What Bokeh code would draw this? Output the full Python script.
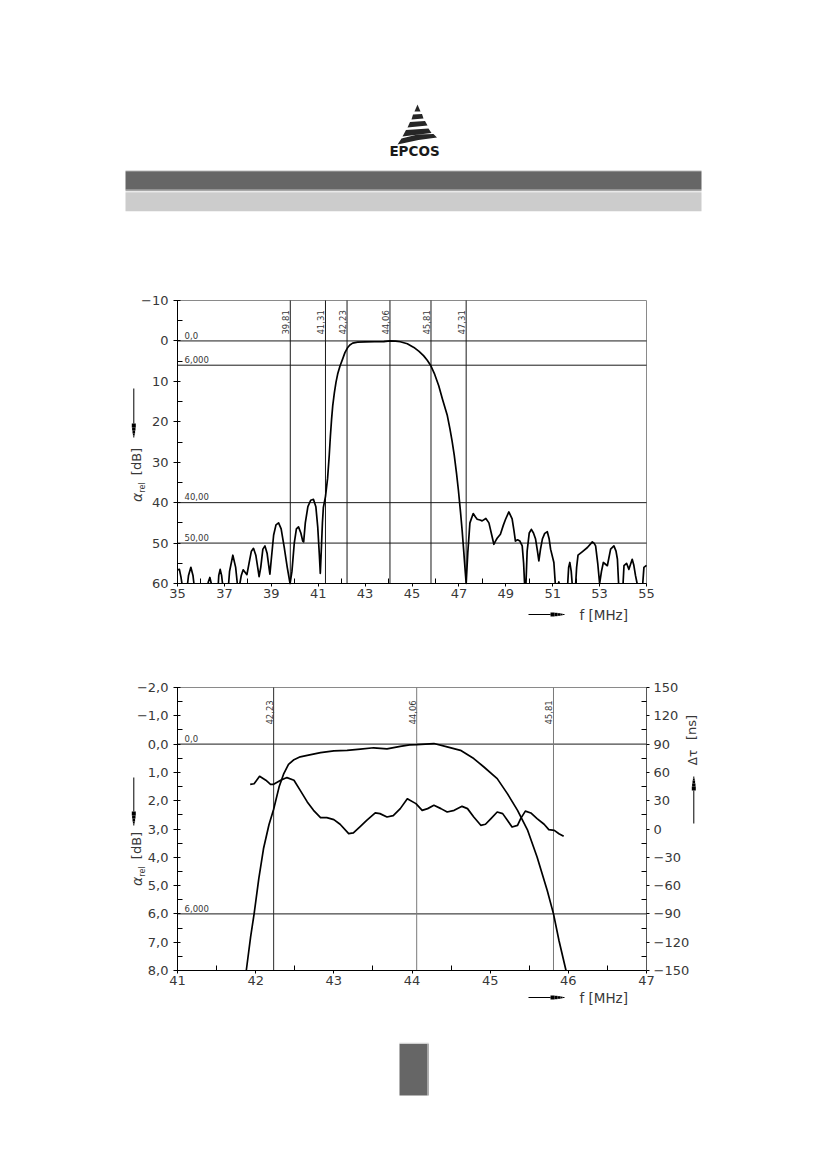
import math
import numpy as np
from bokeh.plotting import figure
from bokeh.layouts import column
from bokeh.models import Range1d, LinearAxis, FixedTicker, Label, Arrow
from bokeh.core.properties import value
from bokeh.embed import file_html
from bokeh.resources import INLINE

FONT = "DejaVu Sans"
INK = "#383838"
W = 810
nan = float("nan")

# ---- wideband response 35..55 MHz (relative attenuation, dB); nan = below 60 dB ----
freq_wide = [35.00, 35.08, 35.15, 35.19, 35.30, 35.43, 35.47, 35.57, 35.66, 35.70,
             36.00, 36.30, 36.32, 36.38, 36.44, 36.60, 36.74, 36.76, 36.82, 36.88,
             36.92, 37.05, 37.18, 37.22, 37.36, 37.48, 37.55, 37.60, 37.66, 37.72,
             37.80, 37.88, 37.96, 38.05, 38.15, 38.24, 38.34, 38.42, 38.48, 38.55,
             38.64, 38.73, 38.82, 38.90, 38.94, 39.00, 39.10, 39.20, 39.31, 39.42,
             39.55, 39.68, 39.80, 39.88, 39.98, 40.07, 40.16, 40.26, 40.34, 40.38,
             40.45, 40.56, 40.68, 40.80, 40.90, 40.98, 41.05, 41.09, 41.13, 41.18,
             41.22, 41.31, 41.40, 41.47, 41.52, 41.57, 41.62, 41.69, 41.76, 41.83,
             41.93, 42.04, 42.14, 42.25, 42.35, 42.47,
             42.68, 43.00, 43.40, 43.80, 44.06, 44.30, 44.50, 44.80, 45.08, 45.30,
             45.50, 45.65, 45.79, 45.95, 46.14, 46.30, 46.50, 46.62, 46.71, 46.80,
             46.90, 46.98, 47.07, 47.14, 47.21, 47.27, 47.31, 47.38,
             47.47, 47.61, 47.70, 47.78, 47.90, 47.99, 48.15, 48.28, 48.40, 48.49,
             48.56, 48.63, 48.77, 48.90, 48.99, 49.13, 49.27, 49.35, 49.41, 49.50,
             49.60, 49.70, 49.76, 49.80, 49.83, 49.86, 49.91, 50.00, 50.09, 50.18,
             50.27, 50.35, 50.41, 50.48, 50.56, 50.66, 50.77, 50.85, 50.91, 51.05,
             51.11, 51.18, 51.24, 51.26, 51.28, 51.45, 51.64, 51.68, 51.73, 51.79,
             51.83, 51.90, 51.98, 52.02, 52.08, 52.27, 52.48, 52.69, 52.76, 52.83,
             52.92, 53.00, 53.08, 53.16, 53.33, 53.47, 53.61, 53.70, 53.76, 53.81,
             53.90, 54.00, 54.04, 54.15, 54.25, 54.39, 54.46, 54.53, 54.60, 54.70,
             54.84, 54.89, 55.00]
att_wide = [56.6, 56.5, 58.5, 60, nan, 60, 58, 56.0, 58, 60,
            nan, 60, 59.5, 58.5, 60, nan, 60, 58, 56.5, 58,
            60, nan, 60, 57, 53.0, 56, 60, nan, 60, 58,
            56.6, 57.2, 57.8, 55, 52, 51.3, 53, 56, 58.3, 56,
            51.5, 50.7, 52.5, 56, 57.7, 54, 48, 45.5, 45.0, 46.5,
            51, 56, 60, 57, 50, 46.5, 46.0, 47.5, 49.5, 49.7,
            45, 41, 39.4, 39.2, 41, 46, 53, 57.5, 52, 45,
            41.2, 38.5, 34, 28.4, 23.5, 19.4, 16.0, 12.8, 10.2, 8.2,
            6.2, 4.5, 2.9, 1.7, 1.0, 0.55,
            0.3, 0.25, 0.2, 0.15, 0.0, 0.05, 0.2, 0.7, 1.6, 2.6,
            3.7, 4.8, 6.0, 8.0, 11.1, 14.4, 18.3, 21.8, 24.8, 28.2,
            32.8, 37.0, 42.4, 47.0, 52.3, 57.0, 60, 52.3,
            45, 42.7, 43.5, 44.1, 44.3, 44.5, 43.9, 45, 48, 50.3,
            49.5, 48.8, 47.8, 45.5, 44.1, 42.3, 44, 47, 49.5, 49.2,
            49.5, 50.7, 55, 60, nan, 60, 52, 47.5, 46.6, 47.5,
            49, 52, 54.4, 51.5, 49, 47.6, 47.2, 49, 51.5, 54.8,
            60, nan, 60, 59.6, 60, nan, 60, 56, 54.8, 57,
            60, nan, 60, 56, 53, 52.1, 51.1, 49.7, 50, 50.7,
            55, 60, 57, 54.8, 55.6, 51.5, 50.7, 52, 54, 60,
            nan, 60, 55.6, 55, 56.5, 54, 55.5, 58, 60, nan,
            60, 56, 55.5]

# ---- passband detail 41..47 MHz ----
freq_pass = [41.88, 41.935, 41.98, 42.04, 42.10, 42.17, 42.23, 42.30, 42.36, 42.42,
             42.49, 42.57, 42.66, 42.83, 43.00, 43.17, 43.34, 43.51, 43.68, 43.85,
             43.97, 44.06, 44.28, 44.45, 44.62, 44.79, 44.92, 45.09, 45.22, 45.35,
             45.48, 45.60, 45.73, 45.81, 45.88, 45.97]
att_pass = [8.0, 6.82, 6.0, 4.75, 3.7, 2.85, 2.3, 1.51, 1.04, 0.72,
            0.55, 0.45, 0.40, 0.30, 0.24, 0.22, 0.18, 0.13, 0.17, 0.08,
            0.03, 0.02, -0.02, 0.10, 0.22, 0.51, 0.81, 1.22, 1.75, 2.34,
            3.05, 3.99, 5.17, 6.0, 6.94, 8.0]

# group delay ripple, ns
freq_gd = [41.93, 41.98, 42.05, 42.13, 42.19, 42.23, 42.32, 42.40, 42.49, 42.57,
           42.66, 42.74, 42.83, 42.91, 43.00, 43.08, 43.19, 43.25, 43.34, 43.42,
           43.53, 43.59, 43.68, 43.76, 43.85, 43.94, 44.05, 44.13, 44.20, 44.28,
           44.37, 44.45, 44.54, 44.64, 44.71, 44.79, 44.88, 44.94, 45.01, 45.09,
           45.16, 45.22, 45.28, 45.35, 45.39, 45.45, 45.52, 45.60, 45.69, 45.75,
           45.82, 45.88, 45.94]
gd_ns = [47.4, 48, 55.9, 51.7, 47.4, 47.4, 51.7, 54.5, 51.7, 41,
         28.7, 19.8, 12, 12, 10, 5, -4.9, -4.2, 2.8, 9.2,
         17, 16.3, 12.7, 14.2, 21.6, 32, 26.9, 19.8, 21.6, 25.1,
         21.6, 18, 19.8, 24, 21.6, 12.7, 3.9, 5, 11, 18,
         16.3, 9.2, 2.1, 3.9, 11, 19, 17, 11, 5, -0.7,
         -1.4, -5, -7.8]

# ---- axes / markers ----
x1_ticks = [35, 37, 39, 41, 43, 45, 47, 49, 51, 53, 55]
x1_labels = ["35", "37", "39", "41", "43", "45", "47", "49", "51", "53", "55"]
x1_minor = [36, 38, 40, 42, 44, 46, 48, 50, 52, 54]
y1_ticks = [-10, 0, 10, 20, 30, 40, 50, 60]
y1_labels = ["\u221210", "0", "10", "20", "30", "40", "50", "60"]
y1_minor = [-5, 5, 15, 25, 35, 45, 55]
h1_lines = [0, 6, 40, 50]
h1_labels = ["0,0", "6,000", "40,00", "50,00"]
v1_lines = [39.81, 41.31, 42.23, 44.06, 45.81, 47.31]
v1_labels = ["39,81", "41,31", "42,23", "44,06", "45,81", "47,31"]

x2_ticks = [41, 42, 43, 44, 45, 46, 47]
x2_labels = ["41", "42", "43", "44", "45", "46", "47"]
x2_minor = [41.5, 42.5, 43.5, 44.5, 45.5, 46.5]
y2_ticks = [-2, -1, 0, 1, 2, 3, 4, 5, 6, 7, 8]
y2_labels = ["\u22122,0", "\u22121,0", "0,0", "1,0", "2,0", "3,0", "4,0", "5,0", "6,0", "7,0", "8,0"]
y2_minor = [-1.5, -0.5, 0.5, 1.5, 2.5, 3.5, 4.5, 5.5, 6.5, 7.5]
t2_ticks = [150, 120, 90, 60, 30, 0, -30, -60, -90, -120, -150]
t2_labels = ["150", "120", "90", "60", "30", "0", "\u221230", "\u221260", "\u221290", "\u2212120", "\u2212150"]
t2_minor = [135, 105, 75, 45, 15, -15, -45, -75, -105, -135]
h2_lines = [0, 6]
h2_labels = ["0,0", "6,000"]
v2_lines = [42.23, 44.06, 45.81]
v2_labels = ["42,23", "44,06", "45,81"]
v2_colors = ["#2a2a2a", "#7a7a7a", "#7a7a7a"]


# page pixel -> data helpers (page origin = top-left of the window)
def px_wide(X, Y):
    return 35 + (X - 177) / 23.45, -10 + (Y - 300) / 4.043


def px_pass(X, Y):
    return 41 + (X - 177) / 78.17, -2 + (Y - 687) / 28.3


def tau_of(a):
    # right scale of the passband chart: -2 dB <-> 150 ns, 8 dB <-> -150 ns
    return 90 - 30 * a


def style_axis(ax, ticks, labels, minor, t_in=3, t_out=4, standoff=5):
    ax.ticker = FixedTicker(ticks=ticks, minor_ticks=minor)
    ax.major_label_overrides = dict(zip(ticks, labels))
    ax.major_label_text_font = FONT
    ax.major_label_text_font_size = "13px"
    ax.major_label_text_color = INK
    ax.major_label_standoff = standoff
    ax.axis_line_color = "black"
    ax.major_tick_line_color = "black"
    ax.minor_tick_line_color = "black"
    ax.major_tick_in = t_in
    ax.major_tick_out = t_out
    ax.minor_tick_in = 5
    ax.minor_tick_out = 0


def note(p, conv, X, Y, text, size, angle=0.0, align="center", baseline="middle", style="normal"):
    x, y = conv(X, Y)
    p.add_layout(Label(x=x, y=y, text=text, angle=angle, text_align=align,
                       text_baseline=baseline, text_font=FONT, text_font_size=size,
                       text_font_style=style, text_color=INK))


def dart(p, conv, X0, Y0, X1, Y1):
    # thin shaft with a narrow tapering head, page pixel coords
    L = math.hypot(X1 - X0, Y1 - Y0)
    ux, uy = (X1 - X0) / L, (Y1 - Y0) / L
    pieces = [(0, L - 14, 1.0), (L - 14, L - 10, 4.0), (L - 10, L - 7, 3.4), (L - 7, L - 4, 2.6),
              (L - 4, L - 2, 1.8), (L - 2, L, 1.0)]
    for a, b, w in pieces:
        xa, ya = conv(X0 + ux * a, Y0 + uy * a)
        xb, yb = conv(X0 + ux * b, Y0 + uy * b)
        p.add_layout(Arrow(x_start=xa, y_start=ya, x_end=xb, y_end=yb, end=None,
                           line_width=w, line_color="black"))


def sheet(h, xr, yr):
    # frame covers the whole strip, axes sit at fixed data locations inside it
    p = figure(width=W, height=h, x_range=xr, y_range=yr, x_axis_type=None, y_axis_type=None,
               output_backend="svg", toolbar_location=None, title=None, min_border=0)
    p.outline_line_color = None
    p.background_fill_color = "white"
    p.border_fill_color = "white"
    return p


# ---------------- header ----------------
head = sheet(268, Range1d(0, W), Range1d(268, 0))
logo_xs = [[417, 414, 420],
           [412.5, 421.5, 423, 411],
           [409.5, 424.5, 427, 407],
           [405.5, 428, 431, 402],
           [401, 417, 433, 436.5, 418, 397]]
logo_ys = [[104, 111, 111],
           [114, 113.5, 118, 119],
           [121.5, 120.5, 125, 127],
           [129.5, 128, 132.5, 136],
           [138, 134, 133.5, 137, 139.5, 144]]
head.patches(xs=logo_xs, ys=logo_ys, fill_color="#262626", line_color=None)
head.text(x=[414], y=[158.5], text=["EPCOS"], text_font=value(FONT), text_font_style="bold",
          text_font_size="13.5px", text_align="center", text_baseline="bottom", text_color="#1a1a1a")
head.quad(left=[125], right=[701], top=[169.5], bottom=[170.7], fill_color="#dddddd", line_color=None)
head.quad(left=[125], right=[701], top=[170.7], bottom=[189.3], fill_color="#666666", line_color=None)
head.quad(left=[125], right=[701], top=[189.3], bottom=[190.7], fill_color="#a8a8a8", line_color=None)
head.quad(left=[125], right=[701], top=[191.7], bottom=[210.7], fill_color="#cccccc", line_color=None)

# ---------------- wideband chart ----------------
x1_lo, x1_hi = x1_ticks[0], x1_ticks[-1]
y1_lo, y1_hi = y1_ticks[0], y1_ticks[-1]
p1 = sheet(382, Range1d(px_wide(0, 0)[0], px_wide(W, 0)[0]),
           Range1d(px_wide(0, 650)[1], px_wide(0, 268)[1]))

p1.quad(left=[x1_lo], right=[x1_hi], top=[y1_lo], bottom=[y1_hi], fill_color=None,
        line_color="#8a8a8a", line_width=1)
n1 = len(h1_lines)
p1.segment(x0=[x1_lo] * n1, x1=[x1_hi] * n1, y0=h1_lines, y1=h1_lines, line_color="#1a1a1a", line_width=1)
m1 = len(v1_lines)
p1.segment(x0=v1_lines, x1=v1_lines, y0=[y1_lo] * m1, y1=[y1_hi] * m1, line_color="#1a1a1a", line_width=1)
for h, t in zip(h1_lines, h1_labels):
    p1.add_layout(Label(x=x1_lo + 0.3, y=h - 0.6, text=t, text_baseline="bottom", text_font=FONT,
                        text_font_size="8.5px", text_color=INK))
for v, t in zip(v1_lines, v1_labels):
    p1.add_layout(Label(x=v, y=-7.6, x_offset=-1, text=t, angle=math.pi / 2, text_align="right",
                        text_baseline="bottom", text_font=FONT, text_font_size="8.5px", text_color=INK))

p1.line(np.array(freq_wide, dtype=float), np.array(att_wide, dtype=float), line_color="black",
        line_width=1.7, line_join="round")

ax1 = LinearAxis(fixed_location=x1_lo, bounds=(y1_lo, y1_hi))
style_axis(ax1, y1_ticks, y1_labels, y1_minor)
p1.add_layout(ax1, "left")
bx1 = LinearAxis(fixed_location=y1_hi, bounds=(x1_lo, x1_hi))
style_axis(bx1, x1_ticks, x1_labels, x1_minor, t_in=0, t_out=3, standoff=2)
p1.add_layout(bx1, "below")

dart(p1, px_wide, 133.3, 388, 133.3, 437)
note(p1, px_wide, 136, 461, "[dB]", "13px", angle=math.pi / 2)
note(p1, px_wide, 136, 497, "\u03b1", "14px", angle=math.pi / 2, style="italic")
note(p1, px_wide, 141.5, 487, "rel", "8px", angle=math.pi / 2)
dart(p1, px_wide, 528, 614, 564, 614)
note(p1, px_wide, 579, 614, "f  [MHz]", "13.5px", align="left")

# ---------------- passband chart ----------------
x2_lo, x2_hi = x2_ticks[0], x2_ticks[-1]
y2_lo, y2_hi = y2_ticks[0], y2_ticks[-1]
a_bot, a_top = px_pass(0, 1035)[1], px_pass(0, 650)[1]
p2 = sheet(385, Range1d(px_pass(0, 0)[0], px_pass(W, 0)[0]), Range1d(a_bot, a_top))
p2.extra_y_ranges = {"tau": Range1d(tau_of(a_bot), tau_of(a_top))}

p2.quad(left=[x2_lo], right=[x2_hi], top=[y2_lo], bottom=[y2_hi], fill_color=None,
        line_color="#8a8a8a", line_width=1)
n2 = len(h2_lines)
p2.segment(x0=[x2_lo] * n2, x1=[x2_hi] * n2, y0=h2_lines, y1=h2_lines, line_color="#1a1a1a", line_width=1)
m2 = len(v2_lines)
p2.segment(x0=v2_lines, x1=v2_lines, y0=[y2_lo] * m2, y1=[y2_hi] * m2, line_color=v2_colors, line_width=1)
for h, t in zip(h2_lines, h2_labels):
    p2.add_layout(Label(x=x2_lo + 0.09, y=h - 0.06, text=t, text_baseline="bottom", text_font=FONT,
                        text_font_size="8.5px", text_color=INK))
for v, t in zip(v2_lines, v2_labels):
    p2.add_layout(Label(x=v, y=-1.55, x_offset=-1, text=t, angle=math.pi / 2, text_align="right",
                        text_baseline="bottom", text_font=FONT, text_font_size="8.5px", text_color=INK))

p2.line(freq_pass, att_pass, line_color="black", line_width=1.7, line_join="round")
p2.line(freq_gd, gd_ns, y_range_name="tau", line_color="black", line_width=1.7, line_join="round")

ax2 = LinearAxis(fixed_location=x2_lo, bounds=(y2_lo, y2_hi))
style_axis(ax2, y2_ticks, y2_labels, y2_minor)
p2.add_layout(ax2, "left")
bx2 = LinearAxis(fixed_location=y2_hi, bounds=(x2_lo, x2_hi))
style_axis(bx2, x2_ticks, x2_labels, x2_minor, t_in=0, t_out=3, standoff=2)
p2.add_layout(bx2, "below")
ax_tau = LinearAxis(y_range_name="tau", fixed_location=x2_hi, bounds=(t2_ticks[-1], t2_ticks[0]))
style_axis(ax_tau, t2_ticks, t2_labels, t2_minor, t_in=0, t_out=3, standoff=4)
ax_tau.axis_line_color = "#555555"
p2.add_layout(ax_tau, "right")

dart(p2, px_pass, 133.3, 777, 133.3, 825)
note(p2, px_pass, 136, 845, "[dB]", "13px", angle=math.pi / 2)
note(p2, px_pass, 136, 881, "\u03b1", "14px", angle=math.pi / 2, style="italic")
note(p2, px_pass, 141.5, 871, "rel", "8px", angle=math.pi / 2)
dart(p2, px_pass, 693.3, 823, 693.3, 776)
note(p2, px_pass, 691, 727, "[ns]", "13px", angle=math.pi / 2)
note(p2, px_pass, 692, 757, "\u0394\u03c4", "12px", angle=math.pi / 2)
dart(p2, px_pass, 528, 997, 564, 997)
note(p2, px_pass, 579, 997, "f  [MHz]", "13.5px", align="left")

# ---------------- footer ----------------
foot = sheet(80, Range1d(0, W), Range1d(1115, 1035))
foot.quad(left=[399], right=[427], top=[1043.3], bottom=[1095], fill_color="#666666", line_color=None)
foot.quad(left=[427], right=[428.3], top=[1043.3], bottom=[1095], fill_color="#9a9a9a", line_color=None)
foot.quad(left=[399], right=[428.3], top=[1042.3], bottom=[1043.3], fill_color="#d0d0d0", line_color=None)

page = column(head, p1, p2, foot, spacing=0)
open("out.html", "w").write(file_html(page, INLINE))
